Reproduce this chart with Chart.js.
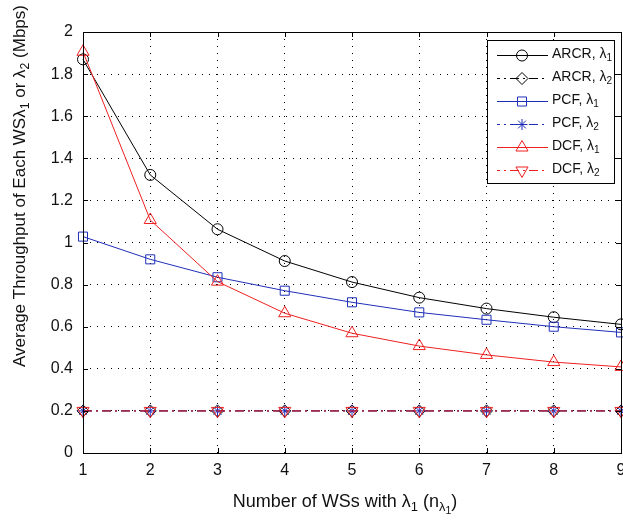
<!DOCTYPE html>
<html>
<head>
<meta charset="utf-8">
<script src="https://cdn.jsdelivr.net/npm/chart.js@4/dist/chart.umd.min.js"></script>
<style>
  html, body { margin: 0; padding: 0; background: #fff; }
  #wrap { width: 623px; height: 524px; }
</style>
</head>
<body>
<div id="wrap"><canvas id="throughput-chart" width="623" height="524"></canvas></div>
<script>
// Data
const wsCounts = [1, 2, 3, 4, 5, 6, 7, 8, 9];
const arcrLambda1 = [1.870, 1.321, 1.063, 0.912, 0.812, 0.738, 0.686, 0.645, 0.611];
const arcrLambda2 = [0.2, 0.2, 0.2, 0.2, 0.2, 0.2, 0.2, 0.2, 0.2];
const pcfLambda1 = [1.028, 0.920, 0.835, 0.771, 0.716, 0.668, 0.633, 0.600, 0.573];
const pcfLambda2 = [0.2, 0.2, 0.2, 0.2, 0.2, 0.2, 0.2, 0.2, 0.2];
const dcfLambda1 = [1.906, 1.107, 0.814, 0.664, 0.569, 0.508, 0.466, 0.432, 0.409];
const dcfLambda2 = [0.2, 0.2, 0.2, 0.2, 0.2, 0.2, 0.2, 0.2, 0.2];
const yTicks = [0, 0.2, 0.4, 0.6, 0.8, 1, 1.2, 1.4, 1.6, 1.8, 2];

// Colors
const colors = {
  black: '#000000',
  blue: '#1f2fb8',
  red: '#ee2020'
};

const FONT = '"Liberation Sans", Arial, Helvetica, sans-serif';
const dashDot = [9, 4, 2, 4];

function toPoints(values) {
  return wsCounts.map((x, i) => ({ x: x, y: values[i] }));
}

// Series definitions (label parts: main text + subscript)
const series = [
  { name: 'ARCR, λ', sub: '1', data: arcrLambda1, color: colors.black, dash: [], style: 'circle', radius: 5.5, rot: 0 },
  { name: 'ARCR, λ', sub: '2', data: arcrLambda2, color: colors.black, dash: dashDot, style: 'rectRot', radius: 6, rot: 0 },
  { name: 'PCF, λ', sub: '1', data: pcfLambda1, color: colors.blue, dash: [], style: 'rect', radius: 6.4, rot: 0 },
  { name: 'PCF, λ', sub: '2', data: pcfLambda2, color: colors.blue, dash: dashDot, style: 'star', radius: 5.5, rot: 0 },
  { name: 'DCF, λ', sub: '1', data: dcfLambda1, color: colors.red, dash: [], style: 'triangle', radius: 7, rot: 0 },
  { name: 'DCF, λ', sub: '2', data: dcfLambda2, color: colors.red, dash: dashDot, style: 'triangle', radius: 7, rot: 180 }
];

// Draw text with subscripts: parts = [[text, level], ...], level 0 normal, 1 sub, 2 sub-sub
function drawRich(ctx, parts, x, y, size, align) {
  const sizes = [size, size * 0.72, size * 0.58];
  const offs = [0, size * 0.32, size * 0.52];
  let total = 0;
  parts.forEach(p => {
    ctx.font = sizes[p[1]] + 'px ' + FONT;
    total += ctx.measureText(p[0]).width;
  });
  let cx = align === 'center' ? x - total / 2 : x;
  ctx.textAlign = 'left';
  ctx.textBaseline = 'middle';
  parts.forEach(p => {
    ctx.font = sizes[p[1]] + 'px ' + FONT;
    ctx.fillText(p[0], cx, y + offs[p[1]]);
    cx += ctx.measureText(p[0]).width;
  });
}

// Marker for the legend, same geometry as Chart.js point styles
function drawMarker(ctx, s, x, y) {
  const r = s.radius;
  ctx.save();
  ctx.strokeStyle = s.color;
  ctx.lineWidth = 1;
  ctx.setLineDash([]);
  ctx.beginPath();
  if (s.style === 'circle') {
    ctx.arc(x, y, r, 0, Math.PI * 2);
  } else if (s.style === 'rectRot') {
    ctx.moveTo(x - r, y); ctx.lineTo(x, y - r); ctx.lineTo(x + r, y); ctx.lineTo(x, y + r); ctx.closePath();
  } else if (s.style === 'rect') {
    const h = r * Math.SQRT1_2;
    ctx.rect(x - h, y - h, 2 * h, 2 * h);
  } else if (s.style === 'star') {
    const d = r * Math.SQRT1_2;
    ctx.moveTo(x - r, y); ctx.lineTo(x + r, y);
    ctx.moveTo(x, y - r); ctx.lineTo(x, y + r);
    ctx.moveTo(x - d, y - d); ctx.lineTo(x + d, y + d);
    ctx.moveTo(x - d, y + d); ctx.lineTo(x + d, y - d);
  } else if (s.style === 'triangle') {
    let a = s.rot * Math.PI / 180;
    ctx.moveTo(x + Math.sin(a) * r, y - Math.cos(a) * r);
    a += Math.PI * 2 / 3;
    ctx.lineTo(x + Math.sin(a) * r, y - Math.cos(a) * r);
    a += Math.PI * 2 / 3;
    ctx.lineTo(x + Math.sin(a) * r, y - Math.cos(a) * r);
    ctx.closePath();
  }
  ctx.stroke();
  ctx.restore();
}

// Frame, inward ticks, axis titles and legend
const decorPlugin = {
  id: 'decor',
  afterDraw(chart) {
    const ctx = chart.ctx;
    const a = chart.chartArea;
    const xs = chart.scales.x;
    const ys = chart.scales.y;
    ctx.save();

    // box
    ctx.strokeStyle = '#000';
    ctx.lineWidth = 1;
    ctx.setLineDash([]);
    ctx.strokeRect(a.left + 0.5, a.top + 0.5, a.right - a.left, a.bottom - a.top);

    // inward tick marks on all sides
    ctx.beginPath();
    wsCounts.forEach(v => {
      const px = Math.round(xs.getPixelForValue(v)) + 0.5;
      ctx.moveTo(px, a.bottom); ctx.lineTo(px, a.bottom - 5);
      ctx.moveTo(px, a.top); ctx.lineTo(px, a.top + 5);
    });
    yTicks.forEach(v => {
      const py = Math.round(ys.getPixelForValue(v)) + 0.5;
      ctx.moveTo(a.left, py); ctx.lineTo(a.left + 5, py);
      ctx.moveTo(a.right, py); ctx.lineTo(a.right - 5, py);
    });
    ctx.stroke();

    // axis titles
    ctx.fillStyle = '#111';
    drawRich(ctx, [['Number of WSs with λ', 0], ['1', 1], [' (n', 0], ['λ', 1], ['1', 2], [')', 0]], 345, 502, 18, 'center');
    ctx.save();
    ctx.translate(20, 186);
    ctx.rotate(-Math.PI / 2);
    drawRich(ctx, [['Average Throughput of Each WSλ', 0], ['1', 1], [' or λ', 0], ['2', 1], [' (Mbps)', 0]], 0, 0, 17, 'center');
    ctx.restore();

    // legend
    const lx = 487, ly = 40, lw = 127, lh = 143;
    ctx.fillStyle = '#fff';
    ctx.fillRect(lx, ly, lw, lh);
    ctx.strokeStyle = '#000';
    ctx.strokeRect(lx + 0.5, ly + 0.5, lw, lh);
    const rowY = [55, 78, 101, 124, 147, 170];
    series.forEach((s, i) => {
      const y = rowY[i] + 0.5;
      ctx.save();
      ctx.strokeStyle = s.color;
      ctx.lineWidth = 1;
      ctx.setLineDash(s.dash);
      ctx.lineDashOffset = s.dash.length ? 6 : 0;
      ctx.beginPath();
      ctx.moveTo(497, y);
      ctx.lineTo(548, y);
      ctx.stroke();
      ctx.restore();
      drawMarker(ctx, s, 522, y);
      ctx.fillStyle = '#111';
      drawRich(ctx, [[s.name, 0], [s.sub, 1]], 552, rowY[i] - 1, 14, 'left');
    });

    ctx.restore();
  }
};

// Initialize chart
function initializeChart() {
  const canvas = document.getElementById('throughput-chart');
  const datasets = series.map((s, i) => ({
    label: s.name + s.sub,
    data: toPoints(s.data),
    borderColor: s.color,
    backgroundColor: 'rgba(0,0,0,0)',
    borderWidth: 1,
    borderDash: s.dash,
    pointStyle: s.style,
    pointRadius: s.radius,
    pointRotation: s.rot,
    pointBorderColor: s.color,
    pointBackgroundColor: 'rgba(0,0,0,0)',
    pointBorderWidth: 1,
    tension: 0,
    fill: false,
    clip: false,
    order: series.length - i
  }));

  new Chart(canvas, {
    type: 'line',
    data: { datasets: datasets },
    plugins: [decorPlugin],
    options: {
      responsive: false,
      animation: false,
      devicePixelRatio: 1,
      layout: { autoPadding: false, padding: { top: 32, right: 2, left: 0, bottom: 0 } },
      plugins: {
        legend: { display: false },
        tooltip: { enabled: false }
      },
      scales: {
        x: {
          type: 'linear',
          min: 1,
          max: 9,
          afterFit: s => { s.height = 71; s.paddingLeft = 0; s.paddingRight = 0; },
          afterBuildTicks: s => { s.ticks = wsCounts.map(v => ({ value: v })); },
          ticks: {
            padding: 8,
            color: '#111',
            font: { family: FONT, size: 16 },
            maxRotation: 0,
            callback: v => String(v)
          },
          grid: { color: '#000', lineWidth: 1, drawTicks: false },
          border: { display: false, dash: [1, 6] }
        },
        y: {
          min: 0,
          max: 2,
          afterFit: s => { s.width = 83; s.paddingTop = 0; s.paddingBottom = 0; },
          afterBuildTicks: s => { s.ticks = yTicks.map(v => ({ value: v })); },
          ticks: {
            padding: 10,
            color: '#111',
            font: { family: FONT, size: 16 },
            callback: v => String(+v.toFixed(1))
          },
          grid: { color: '#000', lineWidth: 1, drawTicks: false },
          border: { display: false, dash: [1, 6] }
        }
      }
    }
  });
}

initializeChart();
</script>
</body>
</html>
